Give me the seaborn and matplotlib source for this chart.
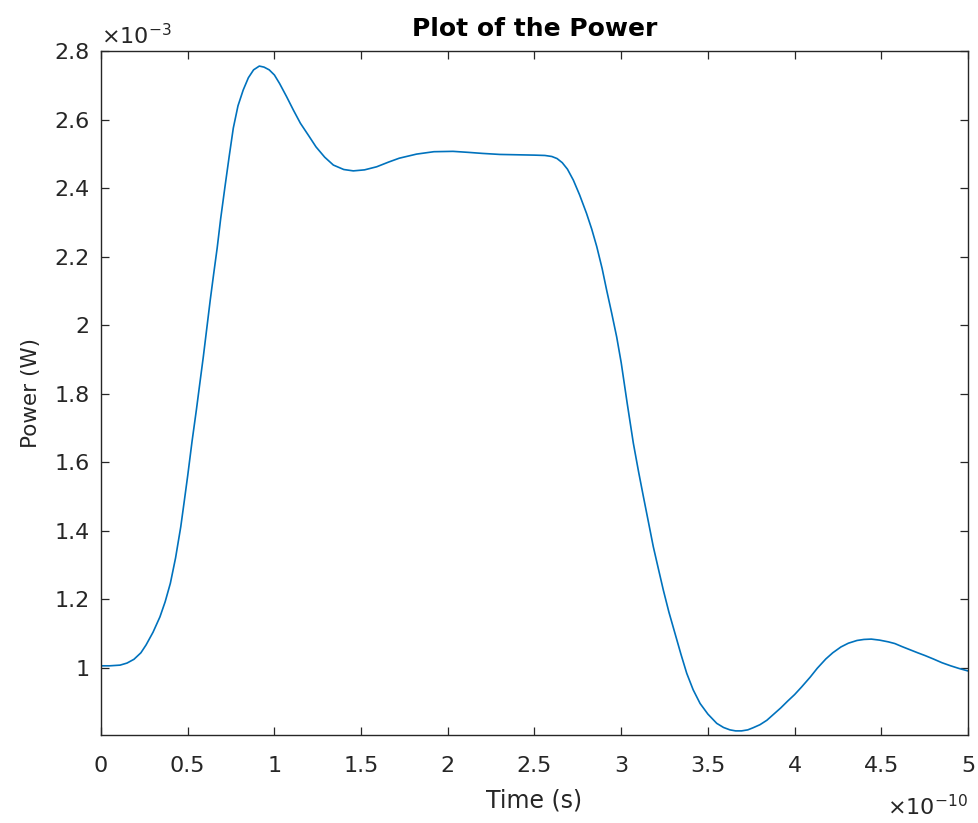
import numpy as np
import pandas as pd
import matplotlib
matplotlib.use("Agg")
import matplotlib.pyplot as plt
import seaborn as sns
from matplotlib.ticker import FuncFormatter

# time in units of 1e-10 s, power in units of 1e-3 W
time_e10 = [0.00, 0.05, 0.11, 0.15, 0.19, 0.23, 0.26, 0.30, 0.34, 0.37, 0.40, 0.43,
            0.46, 0.48, 0.50, 0.525, 0.55, 0.57, 0.59, 0.61, 0.63, 0.65, 0.67, 0.69,
            0.715, 0.74, 0.763, 0.79, 0.82, 0.85, 0.88, 0.913, 0.94, 0.97, 1.00,
            1.03, 1.07, 1.11, 1.15, 1.20, 1.24, 1.29, 1.34, 1.40, 1.455, 1.52, 1.59,
            1.66, 1.72, 1.82, 1.92, 2.03, 2.12, 2.20, 2.30, 2.40, 2.50, 2.56, 2.60,
            2.63, 2.66, 2.69, 2.724, 2.76, 2.80, 2.83, 2.859, 2.89, 2.916, 2.945,
            2.974, 3.00, 3.035, 3.07, 3.10, 3.128, 3.155, 3.185, 3.215, 3.243, 3.275,
            3.31, 3.345, 3.378, 3.415, 3.455, 3.50, 3.551, 3.59, 3.627, 3.66, 3.694,
            3.73, 3.76, 3.80, 3.84, 3.88, 3.92, 3.96, 4.00, 4.04, 4.09, 4.131, 4.18,
            4.22, 4.267, 4.31, 4.36, 4.40, 4.442, 4.49, 4.54, 4.578, 4.62, 4.67,
            4.71, 4.752, 4.80, 4.85, 4.90, 4.95, 5.00]
power_e3 = [1.005, 1.005, 1.007, 1.013, 1.024, 1.043, 1.066, 1.103, 1.148, 1.192, 1.246, 1.320,
            1.411, 1.485, 1.560, 1.660, 1.752, 1.830, 1.907, 1.990, 2.073, 2.150, 2.225, 2.310,
            2.404, 2.495, 2.575, 2.640, 2.686, 2.722, 2.745, 2.756, 2.753, 2.745, 2.730,
            2.705, 2.667, 2.627, 2.589, 2.551, 2.520, 2.490, 2.467, 2.454, 2.450, 2.453, 2.462,
            2.476, 2.487, 2.499, 2.506, 2.507, 2.504, 2.501, 2.498, 2.497, 2.496, 2.495, 2.492,
            2.486, 2.474, 2.455, 2.423, 2.380, 2.326, 2.280, 2.229, 2.165, 2.102, 2.035,
            1.965, 1.890, 1.770, 1.655, 1.572, 1.499, 1.430, 1.353, 1.287, 1.226, 1.162,
            1.100, 1.038, 0.983, 0.935, 0.895, 0.864, 0.837, 0.825, 0.818, 0.815, 0.815,
            0.818, 0.824, 0.833, 0.846, 0.864, 0.882, 0.902, 0.921, 0.943, 0.972, 0.998, 1.025,
            1.043, 1.060, 1.071, 1.079, 1.082, 1.083, 1.080, 1.075, 1.070, 1.061, 1.051,
            1.043, 1.035, 1.025, 1.014, 1.005, 0.997, 0.990]

x_ticks = [0, 0.5, 1, 1.5, 2, 2.5, 3, 3.5, 4, 4.5, 5]
y_ticks = [1.0, 1.2, 1.4, 1.6, 1.8, 2.0, 2.2, 2.4, 2.6, 2.8]

df = pd.DataFrame({"Time (s)": np.array(time_e10) * 1e-10,
                   "Power (W)": np.array(power_e3) * 1e-3})

sns.set_style("ticks")
plt.rcParams['font.family'] = ['DejaVu Sans']
plt.rcParams['mathtext.fontset'] = 'dejavusans'

fig = plt.figure(figsize=(9.79, 8.23), dpi=100)
ax = fig.add_axes([101/979, 88/823, 867/979, 684/823])

sns.lineplot(data=df, x="Time (s)", y="Power (W)", ax=ax, color="#0072BD",
             linewidth=1.2, sort=False)

ax.set_xlim(0, 5e-10)
ax.set_ylim(0.803e-3, 2.8e-3)
ax.set_xticks([v * 1e-10 for v in x_ticks])
ax.set_yticks([v * 1e-3 for v in y_ticks])
ax.xaxis.set_major_formatter(FuncFormatter(lambda v, p: "%g" % round(v / 1e-10, 6)))
ax.yaxis.set_major_formatter(FuncFormatter(lambda v, p: "%g" % round(v / 1e-3, 6)))

dark = "#262626"
for s in ax.spines.values():
    s.set_visible(True)
    s.set_color(dark)
    s.set_linewidth(1.0)
ax.tick_params(direction="in", length=6, width=0.9, colors=dark,
               labelsize=16, top=True, right=True)
ax.tick_params(axis="x", pad=15)
ax.tick_params(axis="y", pad=8)

ax.set_xlabel("Time (s)", fontsize=17, color=dark, labelpad=9)
ax.set_ylabel("Power (W)", fontsize=15.5, color=dark, labelpad=10)
ax.set_title("Plot of the Power", fontsize=18, fontweight="bold", color="black", pad=11)

ax.text(0.0, 1.004, r"$\times10^{-3}$", transform=ax.transAxes, fontsize=16,
        color=dark, ha="left", va="bottom")
ax.text(1.0, -0.086, r"$\times10^{-10}$", transform=ax.transAxes, fontsize=16,
        color=dark, ha="right", va="top")

fig.savefig("out.png", dpi=100, facecolor="white")
